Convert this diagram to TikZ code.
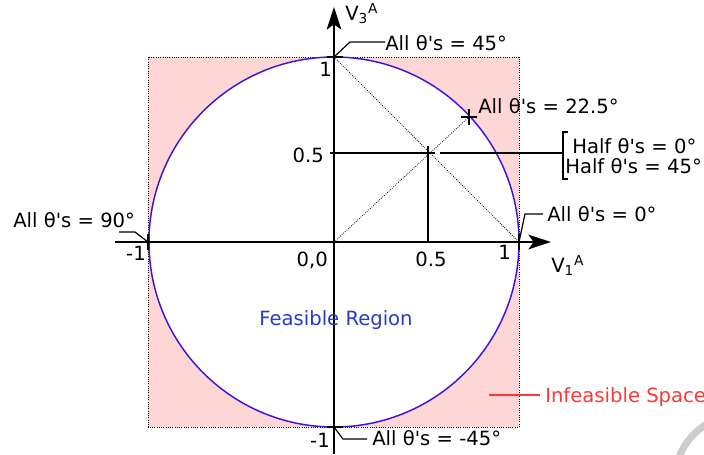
\documentclass[tikz,border=0pt]{standalone}
\usepackage{fontspec}
\setmainfont{DejaVu Sans}[Ligatures=TeXOff]
\usetikzlibrary{arrows.meta}
\definecolor{pinkfill}{RGB}{255,214,214}
\definecolor{circblue}{RGB}{60,20,220}
\definecolor{feasblue}{RGB}{40,60,200}
\definecolor{infred}{RGB}{255,55,55}
\begin{document}
\begin{tikzpicture}[x=0.75pt,y=-0.75pt,
  lab/.style={anchor=base west,inner sep=0pt,font=\fontsize{14.7}{18}\selectfont},
  labr/.style={anchor=base east,inner sep=0pt,font=\fontsize{14.7}{18}\selectfont},
  labc/.style={anchor=base,inner sep=0pt,font=\fontsize{14.7}{18}\selectfont},
  axis/.style={line width=1.2pt,-{Stealth[length=17pt,width=11pt,inset=4pt]}},
  thinl/.style={line width=1pt},
  tick/.style={line width=1.5pt},
  dotl/.style={line width=0.6pt,densely dotted},
  leader/.style={line width=0.9pt}]
\useasboundingbox (0,0) rectangle (704,454);
\begin{scope}
\clip (0,0) rectangle (704,454);
% square
\draw[fill=pinkfill,line width=0.7pt,densely dotted] (148,57) rectangle (519,427);
% circle
\coordinate (O) at (334,242);
\fill[white] (O) circle[radius=138.75pt];
\draw[circblue,line width=1.1pt] (O) circle[radius=138.75pt];
% watermark arc
\draw[gray!40,line width=5.25pt] (740,480) circle[radius=48.75pt];
\end{scope}
% key points
\coordinate (T) at (334,57);
\coordinate (B) at (334,427);
\coordinate (L) at (148,242);
\coordinate (R) at (519,242);
\coordinate (H) at (428,153);
\coordinate (Hx) at (428,242);
\coordinate (Hy) at (330,153);
\coordinate (Q) at (469,117);
% axes
\coordinate (xs) at (115,242);
\coordinate (xe) at (551,242);
\coordinate (ys) at (334,454);
\coordinate (ye) at (334,7);
\draw[axis] (xs) -- (xe);
\draw[axis] (ys) -- (ye);
% ticks
\draw[tick] (327,57) -- (343,57);
\draw[tick] (327,427) -- (343,427);
\draw[tick] (519,234) -- (519,250);
\draw[tick] (148,234) -- (148,250);
% dotted diagonals
\draw[dotl] (T) -- (R);
\draw[dotl] (O) -- (Q);
% half lines
\draw[thinl] (Hy) -- (H) -- (Hx);
\draw[thinl] (H) ++(-7,0) -- ++(14,0);
\draw[thinl] (H) ++(0,-7) -- ++(0,14);
\draw[thinl] (Q) ++(-8,0) -- ++(16,0);
\draw[thinl] (Q) ++(0,-8) -- ++(0,16);
% bracket
\coordinate (br) at (563,153);
\draw[thinl] (440,153) -- (br);
\draw[thinl] (568,132) -- (563,132) -- (563,179) -- (568,179);
% leaders
\draw[leader] (T) -- (350,42) -- (385,42);
\draw[leader] (L) -- (135,232) -- (119,232);
\draw[leader] (R) -- (525,214) -- (543,214);
\draw[leader] (B) -- (343,439) -- (367,439);
\draw[infred,line width=0.9pt] (489,395) -- (540,395);
% axis labels
\node[lab] (v3) at (345,20) {V\textsubscript{3}\textsuperscript{A}};
\node[lab] (v1) at (551,272) {V\textsubscript{1}\textsuperscript{A}};
% tick labels
\node[labr] (y1) at (332,76) {1};
\node[labr] (y05) at (324,162) {0.5};
\node[labr] (ym1) at (330,447) {-1};
\node[labr] (xm1) at (146,260) {-1};
\node[labr] (x00) at (328,266) {0,0};
\node[labc] (x05) at (431,266) {0.5};
\node[labr] (x1) at (511,259) {1};
% annotation labels
\node[lab] (a45) at (385,50) {All θ's = 45°};
\node[lab] (a225) at (478,113) {All θ's = 22.5°};
\node[lab] (h0) at (572,153) {Half θ's = 0°};
\node[lab] (h45) at (565,173) {Half θ's = 45°};
\node[lab] (a90) at (13,227) {All θ's = 90°};
\node[lab] (a0) at (547,221) {All θ's = 0°};
\node[lab] (am45) at (372,445) {All θ's = -45°};
\node[lab,text=infred] (inf) at (545,402) {Infeasible Space};
\node[labc,text=feasblue] (feas) at (336,325) {Feasible Region};
\end{tikzpicture}
\end{document}
